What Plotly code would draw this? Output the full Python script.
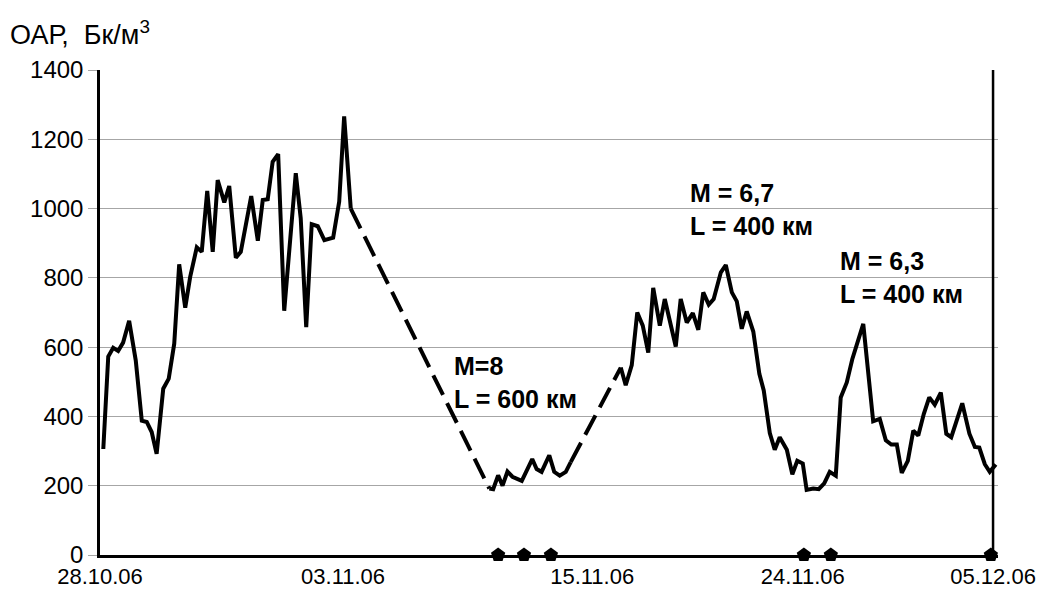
import plotly.graph_objects as go

# ---- data (x = sample number, y = radon volume activity, Bq/m3) ----
seg1_x = [0.6, 1.5, 2.4, 3.3, 4.2, 5.3, 6.5, 7.6, 8.5, 9.4, 10.3, 11.5, 12.5, 13.5, 14.4,
          15.5, 16.4, 17.6, 18.5, 19.5, 20.5, 21.4, 22.6, 23.5, 24.7, 25.6, 27.5, 28.7,
          29.6, 30.5, 31.4, 32.4, 33.5, 35.6, 36.5, 37.5, 38.5, 39.6, 40.8, 42.4, 43.5,
          44.4, 45.6]
seg1_y = [306, 573, 598, 589, 613, 676, 562, 388, 384, 355, 292, 480, 509, 610, 839,
          714, 803, 888, 875, 1051, 875, 1082, 1018, 1065, 858, 875, 1036, 907,
          1025, 1027, 1135, 1157, 705, 1102, 972, 658, 955, 949, 909, 916, 1020,
          1266, 1000]

seg2_x = [70.8, 71.5, 72.4, 73.2, 74.1, 75.0, 76.7, 78.6, 79.4, 80.3, 81.7, 82.6, 83.6,
          84.7, 85.6]
seg2_y = [192, 190, 230, 200, 241, 226, 214, 277, 248, 240, 288, 240, 229, 240, 268]

seg3_x = [94.7, 95.6, 96.7, 97.7, 98.7, 99.7, 100.6, 101.8, 102.7, 104.7, 105.6, 106.7,
          107.8, 108.8, 109.7, 110.7, 111.6, 112.9, 113.8, 114.9, 115.8, 116.7, 117.6,
          118.8, 119.9, 120.7, 121.8, 122.7, 123.6, 124.9, 125.9, 126.8, 127.8, 128.5,
          129.7, 130.7, 131.7, 132.7, 133.8, 134.7, 135.8, 136.8, 138.8, 140.6, 141.8,
          142.9, 143.9, 144.9, 145.8, 146.9, 147.9, 148.8, 149.8, 150.8, 151.8, 152.9,
          153.9, 154.8, 156.8, 158.1, 159.1, 159.9, 160.9, 161.8, 162.9]
seg3_y = [541, 490, 548, 700, 662, 584, 771, 662, 739, 602, 739, 671, 698, 650, 758,
          723, 739, 816, 837, 758, 732, 653, 703, 645, 523, 475, 352, 304, 340, 304,
          233, 272, 264, 188, 192, 190, 207, 240, 229, 455, 498, 565, 667, 386, 393,
          331, 319, 319, 237, 272, 359, 345, 407, 455, 434, 469, 350, 340, 438, 350,
          312, 310, 262, 240, 261]

quake_x = [72.4, 77.1, 82.0, 128.0, 132.9, 162.0]
quake_y = [0, 0, 0, 0, 0, 0]

tick_vals = [0, 44.2, 89.5, 127.8, 162.4]
tick_text = ["28.10.06", "03.11.06", "15.11.06", "24.11.06", "05.12.06"]

notes_x = [64.0, 106.9, 134.2]
notes_y = [497, 998, 800]
notes_text = ["M=8<br>L = 600 км", "M = 6,7<br>L = 400 км", "M = 6,3<br>L = 400 км"]

x_range = [0, 163.3]
y_range = [0, 1400]

# ---- figure ----
solid = dict(color="black", width=4)
dashed = dict(color="black", width=4, dash="22px,9px")

fig = go.Figure()
for sx, sy in [(seg1_x, seg1_y), (seg2_x, seg2_y), (seg3_x, seg3_y)]:
    fig.add_trace(go.Scatter(x=sx, y=sy, mode="lines", line=solid, showlegend=False))

# gaps in the record drawn dashed between the segment ends
for a, b in [((seg1_x, seg1_y), (seg2_x, seg2_y)), ((seg2_x, seg2_y), (seg3_x, seg3_y))]:
    fig.add_trace(go.Scatter(x=[a[0][-1], b[0][0]], y=[a[1][-1], b[1][0]],
                             mode="lines", line=dashed, showlegend=False))

fig.add_trace(go.Scatter(x=quake_x, y=quake_y, mode="markers",
                         marker=dict(symbol="pentagon", size=15, color="black"),
                         cliponaxis=False, showlegend=False))

# vertical line at the last date
fig.add_shape(type="line", x0=tick_vals[-1], x1=tick_vals[-1], y0=y_range[0], y1=y_range[1],
              xref="x", yref="y", line=dict(color="black", width=2.5))

for nx, ny, nt in zip(notes_x, notes_y, notes_text):
    fig.add_annotation(x=nx, y=ny, text=nt, showarrow=False, xanchor="left", yanchor="middle",
                       align="left",
                       font=dict(family="Liberation Sans, Arial", size=25, color="black",
                                 weight="bold"))

fig.add_annotation(xref="paper", yref="paper", x=-0.103, y=1.076, xanchor="left",
                   yanchor="middle", showarrow=False,
                   text="ОАР,\u00a0 Бк/м<sup style='font-size:60%'>3</sup>",
                   font=dict(family="Liberation Sans, Arial", size=27, color="black"))

fig.update_layout(
    width=1045, height=590,
    margin=dict(l=92, r=55, t=62, b=43),
    paper_bgcolor="white", plot_bgcolor="white",
    font=dict(family="Liberation Sans, Arial", color="black"),
)
fig.update_xaxes(range=x_range, tickmode="array", tickvals=tick_vals, ticktext=tick_text,
                 showgrid=False, zeroline=False, showline=True, linecolor="black",
                 linewidth=2.5, ticks="", automargin=False,
                 tickfont=dict(family="Liberation Sans, Arial", size=22, color="black"))
fig.update_yaxes(range=y_range, dtick=200, showgrid=True, gridcolor="#a6a6a6", gridwidth=1,
                 zeroline=False, showline=True, linecolor="black", linewidth=2.5,
                 ticks="outside", ticklen=9, tickcolor="#a6a6a6", tickwidth=1,
                 automargin=False, ticklabelstandoff=0,
                 tickfont=dict(size=24, color="black"))

fig.write_html("out.html")
